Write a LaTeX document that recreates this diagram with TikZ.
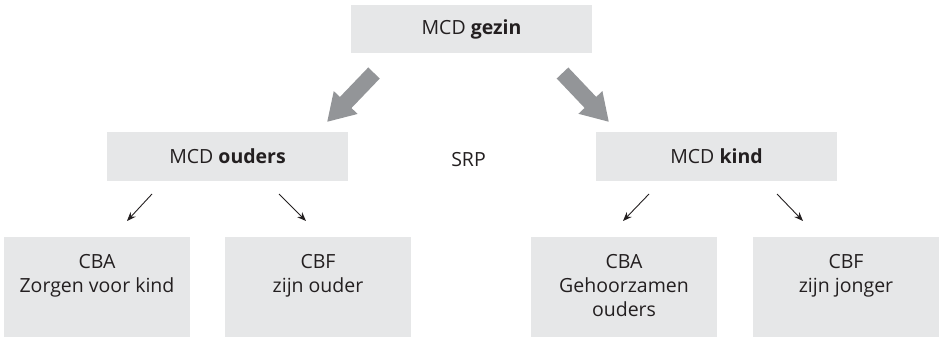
\documentclass[tikz,border=0pt]{standalone}
\usepackage{fontspec}
\setmainfont{Open Sans}
\usetikzlibrary{arrows.meta}
\definecolor{boxfill}{HTML}{E6E7E8}
\definecolor{bigarrow}{HTML}{939598}
\definecolor{txt}{HTML}{231F20}
\begin{document}
\begin{tikzpicture}[x=1pt,y=-1pt,
  every node/.style={font=\fontsize{19.5}{24}\selectfont, text=txt},
  box/.style={draw=none, fill=boxfill, inner sep=0pt},
  bigarr/.style={draw=bigarrow, line width=16pt, -{Triangle[width=31pt,length=27pt]}},
  smallarr/.style={draw=txt, line width=0.9pt, -{Stealth[length=9pt,width=7pt]}}]
\useasboundingbox (0,0) rectangle (939,337);
% top
\node[box, minimum width=241pt, minimum height=48pt] (top) at (471.5,29) {MCD \textbf{gezin}};
% middle
\node[box, minimum width=241.5pt, minimum height=48.5pt] (mo) at (227.5,156.5) {MCD \textbf{ouders}};
\node[box, minimum width=241.5pt, minimum height=48.5pt] (mk) at (716.5,156.5) {MCD \textbf{kind}};
\node (srp) at (468.5,160) {SRP};
% bottom boxes
\node[box, minimum width=186pt, minimum height=100pt] (b1) at (97,287) {};
\node[box, minimum width=186pt, minimum height=100pt] (b2) at (318,287) {};
\node[box, minimum width=186pt, minimum height=100pt] (b3) at (624,287) {};
\node[box, minimum width=186pt, minimum height=100pt] (b4) at (846,287) {};
\node[anchor=north, align=center, inner sep=0pt] (t1) at ([yshift=-17pt]b1.north) {CBA\\Zorgen voor kind};
\node[anchor=north, align=center, inner sep=0pt] (t2) at ([yshift=-17pt]b2.north) {CBF\\zijn ouder};
\node[anchor=north, align=center, inner sep=0pt] (t3) at ([yshift=-17pt]b3.north) {CBA\\Gehoorzamen\\ouders};
\node[anchor=north, align=center, inner sep=0pt] (t4) at ([yshift=-17pt]b4.north) {CBF\\zijn jonger};
% big arrows
\coordinate (la0) at (374,73); \coordinate (la1) at (327,122);
\coordinate (ra0) at (562.5,73); \coordinate (ra1) at (609,122);
\draw[bigarr] (la0) -- (la1);
\draw[bigarr] (ra0) -- (ra1);
% small arrows
\coordinate (s1a) at (152,194); \coordinate (s1b) at (127,221);
\coordinate (s2a) at (279,194); \coordinate (s2b) at (306,221);
\coordinate (s3a) at (649,194); \coordinate (s3b) at (623,221);
\coordinate (s4a) at (777,194); \coordinate (s4b) at (803,221);
\draw[smallarr] (s1a) -- (s1b);
\draw[smallarr] (s2a) -- (s2b);
\draw[smallarr] (s3a) -- (s3b);
\draw[smallarr] (s4a) -- (s4b);
\end{tikzpicture}
\end{document}
